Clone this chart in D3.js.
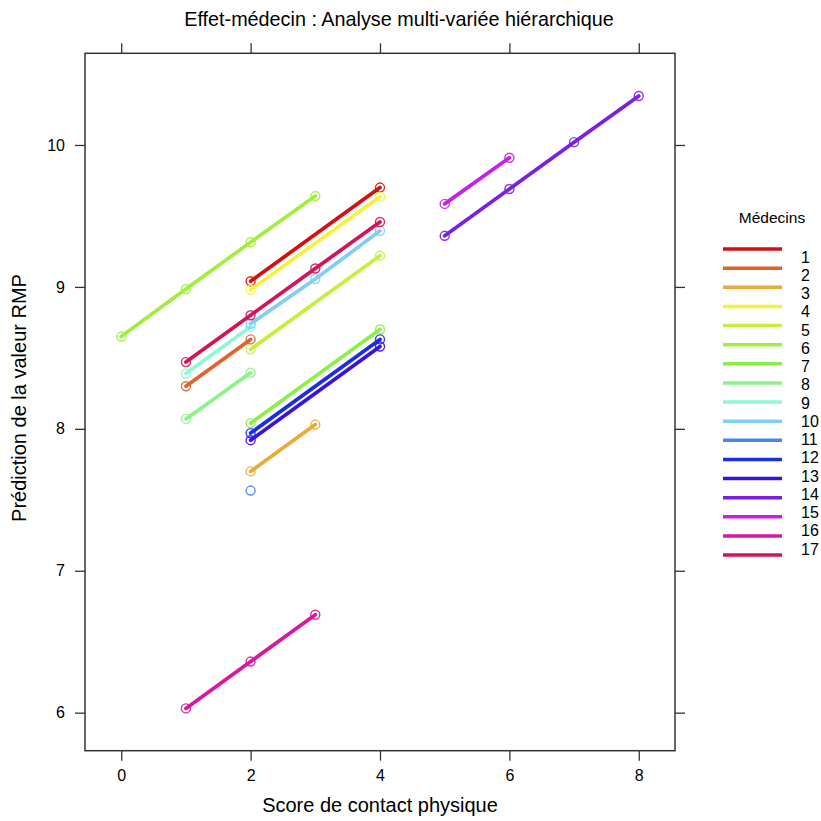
<!DOCTYPE html>
<html><head><meta charset="utf-8">
<script src="https://cdn.jsdelivr.net/npm/d3@7"></script>
<style>body{margin:0;background:#fff}svg{display:block}text{font-family:"Liberation Sans",Arial,sans-serif;fill:#000}</style>
</head><body>
<script>
const doctors = ["1","2","3","4","5","6","7","8","9","10","11","12","13","14","15","16","17"];
const colors = ["#d50f0f","#e0632b","#e9aa37","#f4f23c","#c6ef3c","#a2ee3c","#8af044","#8ef28c","#8ff6d6","#80cdf6","#4b86ee","#1a2ee6","#3a12e0","#7a1fe6","#c81fe8","#d8189f","#d3145b"];
// scores (x) and predicted values (y) per doctor
const xs1 = [2,4],        ys1 = [9.04,9.70];
const xs2 = [1,2],        ys2 = [8.30,8.63];
const xs3 = [2,3],        ys3 = [7.70,8.03];
const xs4 = [2,4],        ys4 = [8.98,9.635];
const xs5 = [2,4],        ys5 = [8.56,9.22];
const xs6 = [0,1,2,3],    ys6 = [8.65,8.985,9.315,9.64];
const xs7 = [2,4],        ys7 = [8.04,8.70];
const xs8 = [1,2],        ys8 = [8.07,8.395];
const xs9 = [1,2],        ys9 = [8.39,8.72];
const xs10 = [2,3,4],     ys10 = [8.74,9.055,9.395];
const xs11 = [2],         ys11 = [7.565];
const xs12 = [2,4],       ys12 = [7.97,8.63];
const xs13 = [2,4],       ys13 = [7.92,8.58];
const xs14 = [5,6,7,8],   ys14 = [9.36,9.69,10.02,10.345];
const xs15 = [5,6],       ys15 = [9.585,9.91];
const xs16 = [1,2,3],     ys16 = [6.03,6.36,6.69];
const xs17 = [1,2,3,4],   ys17 = [8.47,8.80,9.13,9.457];
const xTicks = [0,2,4,6,8];
const yTicks = [6,7,8,9,10];
const title = "Effet-médecin : Analyse multi-variée hiérarchique";
const xLabel = "Score de contact physique";
const yLabel = "Prédiction de la valeur RMP";
const legendTitle = "Médecins";

const XS=[xs1,xs2,xs3,xs4,xs5,xs6,xs7,xs8,xs9,xs10,xs11,xs12,xs13,xs14,xs15,xs16,xs17];
const YS=[ys1,ys2,ys3,ys4,ys5,ys6,ys7,ys8,ys9,ys10,ys11,ys12,ys13,ys14,ys15,ys16,ys17];
const series = doctors.map((d,i)=>({name:d,color:colors[i],pts:XS[i].map((x,j)=>[x,YS[i][j]])}));

const W=821,H=821;
const L=85,R=675,T=53.3,B=750.7;
const svg=d3.select("body").append("svg").attr("width",W).attr("height",H);
const x=d3.scaleLinear().domain([-0.56,8.56]).range([L,R]);
const y=d3.scaleLinear().domain([5.732,10.646]).range([B,T]);

const axStyle=g=>{g.select(".domain").remove();g.selectAll(".tick line").attr("stroke","#333").attr("stroke-width",1.3);g.selectAll(".tick text").attr("font-size",16).attr("font-family","Liberation Sans, Arial, sans-serif").attr("fill","#000");};
svg.append("g").attr("transform",`translate(0,${B})`).call(d3.axisBottom(x).tickValues(xTicks).tickSize(10).tickPadding(9).tickFormat(d3.format("d"))).call(axStyle);
svg.append("g").attr("transform",`translate(0,${T})`).call(d3.axisTop(x).tickValues(xTicks).tickSize(10).tickFormat("")).call(axStyle);
svg.append("g").attr("transform",`translate(${L},0)`).call(d3.axisLeft(y).tickValues(yTicks).tickSize(10).tickPadding(10).tickFormat(d3.format("d"))).call(axStyle);
svg.append("g").attr("transform",`translate(${R},0)`).call(d3.axisRight(y).tickValues(yTicks).tickSize(10).tickFormat("")).call(axStyle);
svg.append("rect").attr("x",L).attr("y",T).attr("width",R-L).attr("height",B-T).attr("fill","none").attr("stroke","#333").attr("stroke-width",1.5);

const line=d3.line().x(d=>x(d[0])).y(d=>y(d[1]));
const g=svg.append("g");
series.forEach(s=>{
  if(s.pts.length>1) g.append("path").attr("d",line(s.pts)).attr("fill","none").attr("stroke",s.color).attr("stroke-width",3.7).attr("stroke-linecap","round");
  g.selectAll(null).data(s.pts).enter().append("circle").attr("cx",d=>x(d[0])).attr("cy",d=>y(d[1])).attr("r",4.5).attr("fill","none").attr("stroke",s.color).attr("stroke-width",1.4).attr("opacity",0.9);
});

svg.append("text").attr("x",399).attr("y",26).attr("text-anchor","middle").attr("font-size",19.8).text(title);
svg.append("text").attr("x",380).attr("y",812).attr("text-anchor","middle").attr("font-size",20).text(xLabel);
svg.append("text").attr("transform","translate(26,398) rotate(-90)").attr("text-anchor","middle").attr("font-size",20).text(yLabel);

const lg=svg.append("g");
lg.append("text").attr("x",772).attr("y",223).attr("text-anchor","middle").attr("font-size",15.5).text(legendTitle);
series.forEach((s,i)=>{
  const ly=249+i*19.125;
  lg.append("line").attr("x1",723).attr("x2",782).attr("y1",ly).attr("y2",ly).attr("stroke",s.color).attr("stroke-width",3.5);
  lg.append("text").attr("x",801).attr("y",257+i*18.25).attr("dy","0.35em").attr("font-size",16).text(s.name);
});
</script>
</body></html>
